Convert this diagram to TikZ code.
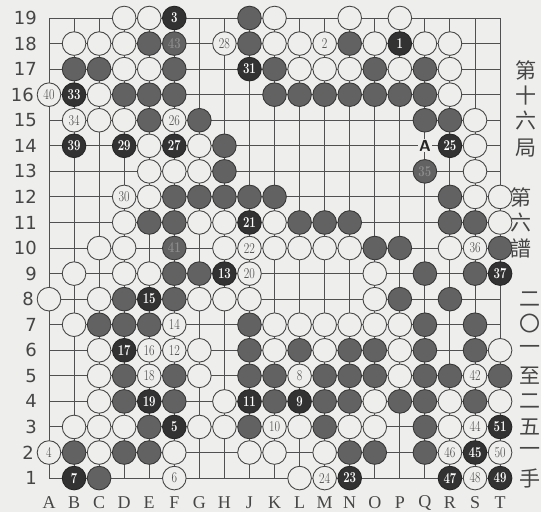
\documentclass[tikz,border=0pt]{standalone}
\usepackage{fontspec}
\newfontfamily\cjk{Noto Sans CJK TC}
\newfontfamily\lsans{DejaVu Sans}
\newfontfamily\lserif{Liberation Serif}
\definecolor{paper}{RGB}{238,238,236}
\definecolor{ink}{RGB}{70,70,70}
\definecolor{bstone}{RGB}{98,98,98}
\definecolor{bnumstone}{RGB}{50,50,50}
\definecolor{gridc}{RGB}{80,80,80}
\newcommand\stnumfont{\fontsize{15}{15}\selectfont}
\tikzset{
  stonebase/.style={circle, line width=0.9pt, minimum size=23.6pt, inner sep=0pt},
  stw/.style={stonebase, draw=black!72, fill=paper, text=ink, font=\stnumfont},
  stb/.style={stonebase, draw=black!78, fill=bstone},
  stB/.style={stonebase, draw=black!85, fill=bnumstone, text=white, font=\stnumfont\bfseries},
  stf/.style={stonebase, draw=black!78, fill=bstone, text=black!45, font=\stnumfont\bfseries},
  rowlab/.style={anchor=east, text=ink, font=\lsans\fontsize{18}{18}\selectfont, inner sep=0pt},
  collab/.style={text=ink, font=\lserif\fontsize{18}{18}\selectfont, inner sep=0pt},
  cjklab/.style={text=ink, font=\cjk\fontsize{21}{21}\selectfont, inner sep=0pt},
  gridline/.style={draw=gridc, line width=1pt},
  marklab/.style={fill=paper, text=black!85, font=\sffamily\bfseries\fontsize{16}{16}\selectfont, inner sep=1pt}
}
\begin{document}
\begin{tikzpicture}[x=1pt,y=-1pt]
\fill[paper] (0,0) rectangle (541,512);
\useasboundingbox (0,0) rectangle (541,512);
% board grid
\foreach \i in {1,...,19}{
  \pgfmathsetmacro\gx{49+(\i-1)*25.06}
  \pgfmathsetmacro\gy{18+(19-\i)*25.56}
  \draw[gridline] (\gx,18) -- (\gx,478);
  \draw[gridline] (49,\gy) -- (500,\gy);
}
% row numbers
\foreach \r in {1,...,19}{
  \pgfmathsetmacro\gy{18+(19-\r)*25.56}
  \pgfmathsetmacro\lx{(\r==16 || \r==8 || \r==2) ? 34 : 37}
  \node[rowlab] (row\r) at (\lx,\gy) {\r};
}
% column letters
\foreach \l [count=\i] in {A,B,C,D,E,F,G,H,J,K,L,M,N,O,P,Q,R,S,T}{
  \pgfmathsetmacro\gx{49+(\i-1)*25.06}
  \node[collab] (col\l) at (\gx,503) {\l};
}
% plain white stones
\foreach \r/\cols in {19/{4,5,10,13,15}, 18/{2,3,4,10,11,14,16,17}, 17/{4,5,11,12,13,15,17},
  16/{3,17}, 15/{3,4,18}, 14/{5,7,18}, 13/{5,6,7,18}, 12/{5,18,19}, 11/{4,7,8,10,19},
  10/{3,4,8,10,11,12,13,17}, 9/{2,4,5,14}, 8/{1,3,7,8,9,14}, 7/{2,10,11,12,13,14,15},
  6/{3,7,10,12,15,19}, 5/{3,7,15}, 4/{3,8,14,17,19}, 3/{2,3,4,7,8,11,13,14,17},
  2/{3,6,9,10,12}, 1/{11}}{
  \foreach \c in \cols{
    \pgfmathsetmacro\px{49+(\c-1)*25.06}
    \pgfmathsetmacro\py{18+(19-\r)*25.56}
    \node[stw] (w\c-\r) at (\px,\py) {};
  }
}
% plain black stones
\foreach \r/\cols in {19/{9}, 18/{5,9,13}, 17/{2,3,6,10,14,16},
  16/{4,5,6,10,11,12,13,14,15,16}, 15/{5,7,16,17}, 14/{8}, 13/{8}, 12/{6,7,8,9,10,17},
  11/{5,6,11,12,13,17,18}, 10/{14,15,19}, 9/{6,7,16,18}, 8/{4,6,15,17}, 7/{3,4,5,9,16,18},
  6/{9,11,13,14,16,18}, 5/{4,6,9,10,12,13,14,16,17,19}, 4/{4,6,10,12,13,15,16,18},
  3/{5,9,12,16}, 2/{2,4,5,13,14,16}, 1/{3}}{
  \foreach \c in \cols{
    \pgfmathsetmacro\px{49+(\c-1)*25.06}
    \pgfmathsetmacro\py{18+(19-\r)*25.56}
    \node[stb] (b\c-\r) at (\px,\py) {};
  }
}
% numbered black stones
\foreach \c/\r/\n in {6/19/3, 15/18/1, 9/17/31, 2/16/33, 2/14/39, 4/14/29, 6/14/27, 17/14/25,
  9/11/21, 8/9/13, 19/9/37, 5/8/15, 4/6/17, 5/4/19, 9/4/11, 11/4/9, 6/3/5, 19/3/51,
  18/2/45, 2/1/7, 13/1/23, 17/1/47, 19/1/49}{
  \pgfmathsetmacro\px{49+(\c-1)*25.06}
  \pgfmathsetmacro\py{18+(19-\r)*25.56}
  \node[stB] (B\n) at (\px,\py) {\scalebox{0.76}[1]{\n}};
}
% numbered black stones with faint numbers
\foreach \c/\r/\n in {6/18/43, 16/13/35, 6/10/41}{
  \pgfmathsetmacro\px{49+(\c-1)*25.06}
  \pgfmathsetmacro\py{18+(19-\r)*25.56}
  \node[stf] (B\n) at (\px,\py) {\scalebox{0.76}[1]{\n}};
}
% numbered white stones
\foreach \c/\r/\n in {8/18/28, 12/18/2, 1/16/40, 2/15/34, 6/15/26, 4/12/30, 9/10/22, 18/10/36,
  9/9/20, 6/7/14, 5/6/16, 6/6/12, 5/5/18, 11/5/8, 18/5/42, 10/3/10, 18/3/44, 1/2/4,
  17/2/46, 19/2/50, 6/1/6, 12/1/24, 18/1/48}{
  \pgfmathsetmacro\px{49+(\c-1)*25.06}
  \pgfmathsetmacro\py{18+(19-\r)*25.56}
  \node[stw] (W\n) at (\px,\py) {\scalebox{0.8}[1]{\n}};
}
% point mark A at Q14
\node[marklab] (markA) at ({49+15*25.06},{18+5*25.56}) {A};
% title text on the right
\node[cjklab] (t1) at (526,70) {第};
\node[cjklab] (t2) at (526,96) {十};
\node[cjklab] (t3) at (526,121) {六};
\node[cjklab] (t4) at (526,148) {局};
\node[cjklab] (t5) at (521,197) {第};
\node[cjklab] (t6) at (521,223) {六};
\node[cjklab] (t7) at (521,248) {譜};
\node[cjklab] (t8) at (530,299) {二};
\node[cjklab] (t9) at (530,324) {〇};
\node[cjklab] (t10) at (530,350) {一};
\node[cjklab] (t11) at (530,376) {至};
\node[cjklab] (t12) at (530,401) {二};
\node[cjklab] (t13) at (530,427) {五};
\node[cjklab] (t14) at (530,452) {一};
\node[cjklab] (t15) at (530,478) {手};
\end{tikzpicture}
\end{document}
